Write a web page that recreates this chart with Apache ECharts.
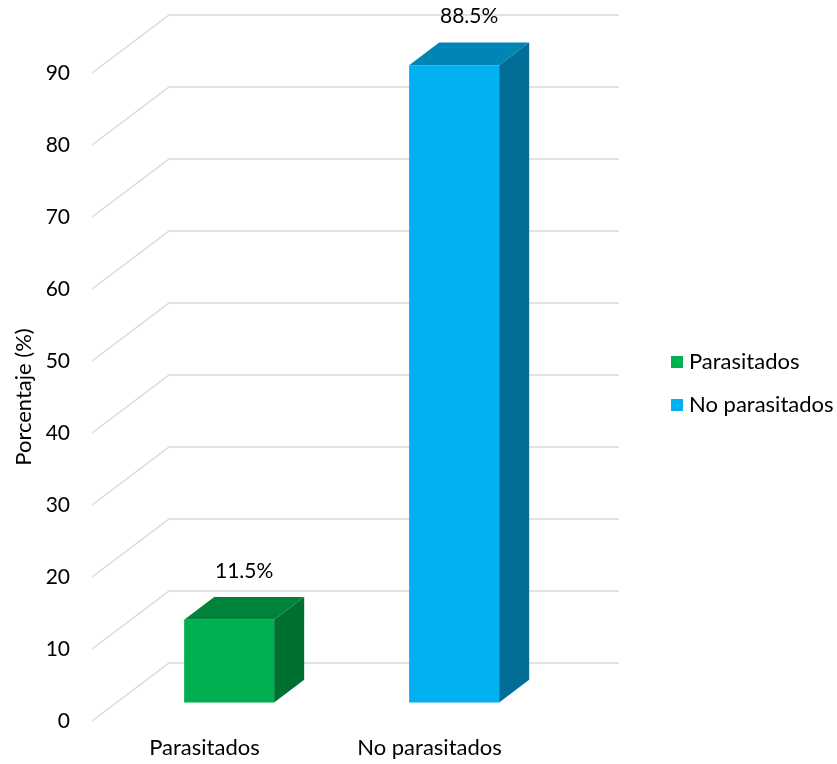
<!DOCTYPE html>
<html>
<head>
<meta charset="utf-8">
<script src="https://cdn.jsdelivr.net/npm/echarts@6/dist/echarts.min.js"></script>
<style>
  html, body { margin: 0; padding: 0; background: #ffffff; }
  #chart { width: 837px; height: 764px; }
</style>
</head>
<body>
<div id="chart"></div>
<script>
// Data
const categories = ['Parasitados', 'No parasitados'];
const seriesNames = ['Parasitados', 'No parasitados'];
const percentValues = [11.5, 88.5];
const valueTicks = [0, 10, 20, 30, 40, 50, 60, 70, 80, 90];

// Look
const FONT_FAMILY = 'Lato, "Open Sans", sans-serif';
const FONT_SIZE = 21;
const TEXT_COLOR = '#000000';
const GRID_COLOR = '#d9d9d9';
const faceColors = [
  { front: '#00b050', top: '#00843c', side: '#006f32' },
  { front: '#00b0f0', top: '#0085b5', side: '#006e96' }
];

// Oblique projection of the 3D box: how far the back wall sits from the front plane
const DEPTH_X = 77;
const DEPTH_Y = 58;
// Bars occupy this slice of the floor depth (0 = front edge, 1 = back wall)
const BAR_DEPTH_START = 0.32;
const BAR_DEPTH_END = 0.71;
const BAR_WIDTH_RATIO = 0.4;

// Floor/wall grid lines: diagonal on the side wall, horizontal on the back wall
function renderGridLine(params, api) {
  const cs = params.coordSys;
  const y = api.coord([0, api.value(1)])[1];
  return {
    type: 'polyline',
    shape: {
      points: [
        [cs.x, y],
        [cs.x + DEPTH_X, y - DEPTH_Y],
        [cs.x + DEPTH_X + cs.width, y - DEPTH_Y]
      ]
    },
    style: { stroke: GRID_COLOR, lineWidth: 1.5, fill: null }
  };
}

// Draws a 3D column: front face, top face, right side face and the value label
function makeBarRenderer(colors) {
  return function (params, api) {
    const cat = api.value(0);
    const val = api.value(1);
    const base = api.coord([cat, 0]);
    const top = api.coord([cat, val]);
    const w = api.size([1, 0])[0] * BAR_WIDTH_RATIO;
    const offX = BAR_DEPTH_START * DEPTH_X;
    const offY = -BAR_DEPTH_START * DEPTH_Y;
    const dx = (BAR_DEPTH_END - BAR_DEPTH_START) * DEPTH_X;
    const dy = -(BAR_DEPTH_END - BAR_DEPTH_START) * DEPTH_Y;
    const x0 = base[0] - w / 2 + offX;
    const x1 = base[0] + w / 2 + offX;
    const yb = base[1] + offY;
    const yt = top[1] + offY;
    return {
      type: 'group',
      children: [
        {
          type: 'polygon',
          shape: { points: [[x0, yt], [x1, yt], [x1 + dx, yt + dy], [x0 + dx, yt + dy]] },
          style: { fill: colors.top }
        },
        {
          type: 'polygon',
          shape: { points: [[x1, yt], [x1 + dx, yt + dy], [x1 + dx, yb + dy], [x1, yb]] },
          style: { fill: colors.side }
        },
        {
          type: 'rect',
          shape: { x: x0, y: yt, width: w, height: yb - yt },
          style: { fill: colors.front }
        },
        {
          type: 'text',
          style: {
            text: val + '%',
            x: (x0 + x1 + dx) / 2,
            y: yt + dy - 26,
            align: 'center',
            verticalAlign: 'middle',
            fontFamily: FONT_FAMILY,
            fontSize: 21,
            fill: TEXT_COLOR
          }
        }
      ]
    };
  };
}

const chart = echarts.init(document.getElementById('chart'), null, { renderer: 'canvas' });

const barSeries = seriesNames.map((name, i) => ({
  name: name,
  type: 'custom',
  xAxisIndex: 0,
  yAxisIndex: 0,
  z: 3,
  itemStyle: { color: faceColors[i].front },
  encode: { x: 0, y: 1 },
  data: [[i, percentValues[i]]],
  renderItem: makeBarRenderer(faceColors[i])
}));

chart.setOption({
  animation: false,
  backgroundColor: '#ffffff',
  grid: { left: 92, width: 450, top: 73, height: 648 },
  legend: {
    data: seriesNames,
    orient: 'vertical',
    left: 666,
    top: 346,
    icon: 'rect',
    itemWidth: 12,
    itemHeight: 12,
    itemGap: 21,
    textStyle: { fontFamily: FONT_FAMILY, fontSize: 22, color: TEXT_COLOR, padding: [0, 0, 0, 1] }
  },
  xAxis: {
    type: 'category',
    data: categories,
    axisLine: { show: false },
    axisTick: { show: false },
    splitLine: { show: false },
    axisLabel: { margin: 16, fontFamily: FONT_FAMILY, fontSize: 22, color: TEXT_COLOR }
  },
  yAxis: {
    type: 'value',
    min: 0,
    max: 90,
    interval: 10,
    name: 'Porcentaje (%)',
    nameLocation: 'middle',
    nameGap: 57,
    nameTextStyle: { fontFamily: FONT_FAMILY, fontSize: 22, color: TEXT_COLOR },
    axisLine: { show: false },
    axisTick: { show: false },
    splitLine: { show: false },
    axisLabel: { margin: 22, fontFamily: FONT_FAMILY, fontSize: FONT_SIZE, color: TEXT_COLOR }
  },
  series: [
    {
      name: 'grid',
      type: 'custom',
      silent: true,
      z: 1,
      encode: { x: 0, y: 1 },
      data: valueTicks.map(v => [0, v]),
      renderItem: renderGridLine
    }
  ].concat(barSeries)
});
</script>
</body>
</html>
